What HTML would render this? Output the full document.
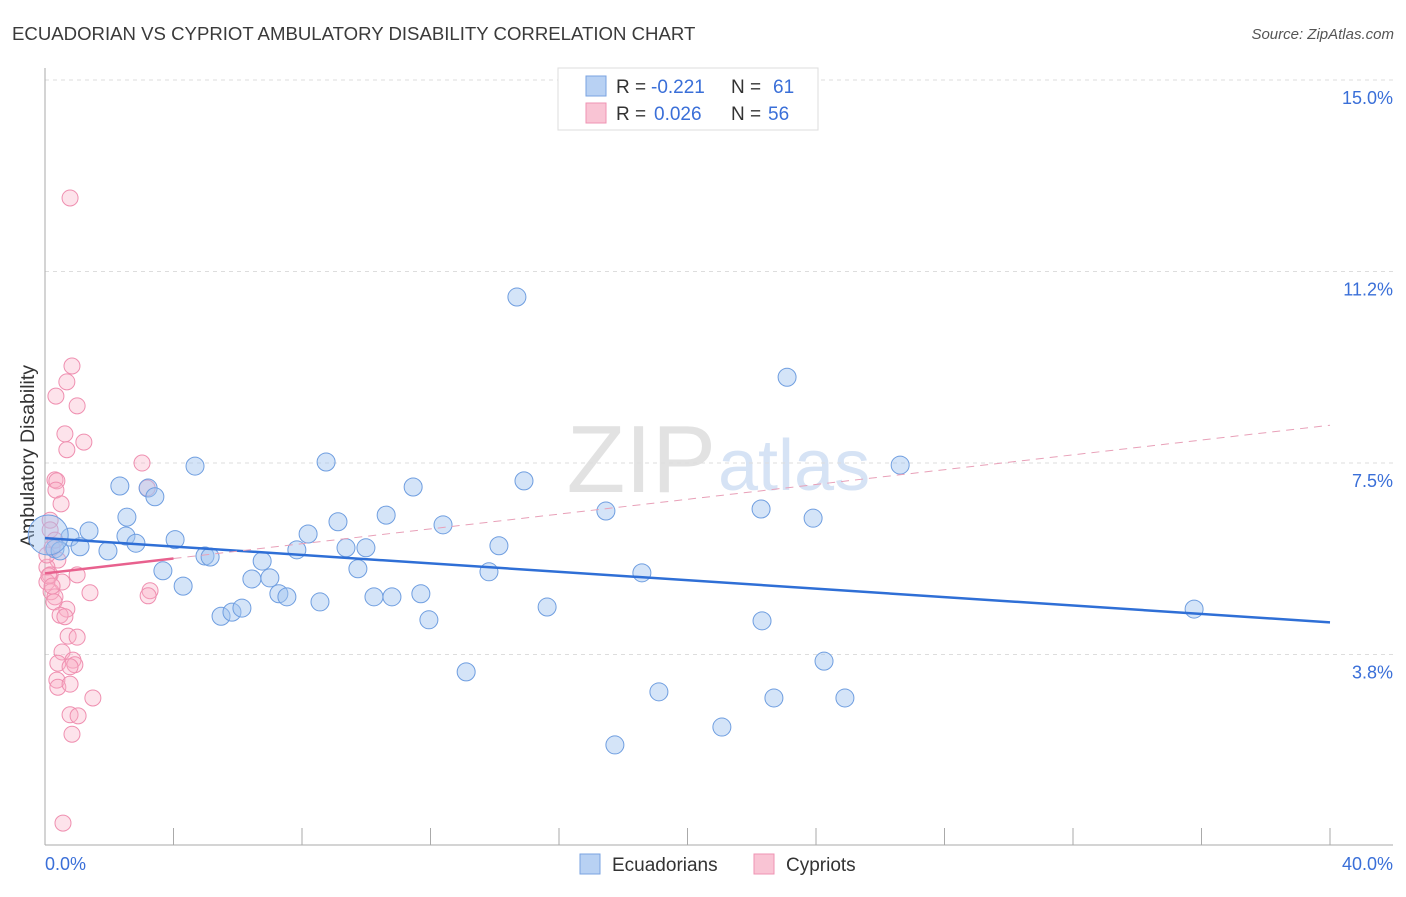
<!DOCTYPE html>
<html><head><meta charset="utf-8"><style>
body{margin:0;background:#fff;font-family:"Liberation Sans",sans-serif;}
svg text{font-family:"Liberation Sans",sans-serif;}
</style></head><body>
<svg id="c" width="1406" height="892" xmlns="http://www.w3.org/2000/svg">
<text x="12" y="40" font-size="18.6" fill="#3a3a3a">ECUADORIAN VS CYPRIOT AMBULATORY DISABILITY CORRELATION CHART</text>
<text x="1394" y="39" font-size="15" fill="#555" text-anchor="end" font-style="italic">Source: ZipAtlas.com</text>
<text x="716" y="492" font-size="96" fill="#e2e2e2" text-anchor="end" font-family="Liberation Serif">ZIP</text>
<text x="718" y="490" font-size="72" fill="#d6e3f5">atlas</text>
<text transform="translate(34,456) rotate(-90)" font-size="19.5" fill="#333" text-anchor="middle">Ambulatory Disability</text>
<g id="grid"></g><g id="pts"></g><g id="trend"></g>
<g>
<rect x="558" y="68" width="260" height="62" fill="#fff" stroke="#ddd"/>
<rect x="586" y="76" width="20" height="20" fill="#b8d1f3" stroke="#7aa3e0"/>
<rect x="586" y="103" width="20" height="20" fill="#f9c4d4" stroke="#ef93b3"/>
<text x="616" y="93" font-size="19" fill="#333">R =</text>
<text x="651" y="93" font-size="19" fill="#3a6fd8">-0.221</text>
<text x="731" y="93" font-size="19" fill="#333">N =</text>
<text x="773" y="93" font-size="19" fill="#3a6fd8">61</text>
<text x="616" y="120" font-size="19" fill="#333">R =</text>
<text x="654" y="120" font-size="19" fill="#3a6fd8">0.026</text>
<text x="731" y="120" font-size="19" fill="#333">N =</text>
<text x="768" y="120" font-size="19" fill="#3a6fd8">56</text>
</g>
<g>
<rect x="580" y="854" width="20" height="20" fill="#b8d1f3" stroke="#7aa3e0"/>
<text x="612" y="871" font-size="19" fill="#333">Ecuadorians</text>
<rect x="754" y="854" width="20" height="20" fill="#f9c4d4" stroke="#ef93b3"/>
<text x="786" y="871" font-size="19" fill="#333">Cypriots</text>
</g>
<text x="45" y="870" font-size="18" fill="#3a6fd8">0.0%</text>
<text x="1393" y="870" font-size="18" fill="#3a6fd8" text-anchor="end">40.0%</text>
</svg>
<script>
const yTicks=[15,11.25,7.5,3.75];
const yTickLabels=["15.0%","11.2%","7.5%","3.8%"];
const blueX=[2.33,2.55,1.37,0.78,0.31,1.09,1.96,2.52,2.83,3.21,3.42,4.05,4.67,3.67,4.30,4.98,5.14,5.48,5.82,6.13,6.44,6.76,7.00,7.28,7.53,7.84,8.19,8.56,8.75,9.12,9.37,9.74,9.99,10.24,10.62,10.80,11.46,11.70,11.95,12.39,13.11,13.82,14.13,14.69,14.91,15.63,17.46,17.74,18.58,19.11,21.07,22.29,22.32,22.69,23.10,23.91,24.25,24.90,26.62,35.77,0.47];
const blueY=[7.05,6.44,6.17,6.05,5.82,5.86,5.78,6.07,5.93,7.01,6.84,6.00,7.44,5.39,5.09,5.68,5.66,4.50,4.58,4.66,5.23,5.58,5.25,4.94,4.88,5.80,6.11,4.78,7.52,6.35,5.84,5.43,5.84,4.88,6.48,4.88,7.03,4.94,4.43,6.29,3.41,5.37,5.88,10.75,7.15,4.68,6.56,1.98,5.35,3.02,2.33,6.60,4.41,2.90,9.18,6.42,3.62,2.90,7.46,4.64,5.78];
const pinkX=[0.78,0.84,0.68,0.34,1.00,0.62,1.21,0.68,3.02,0.31,0.37,0.34,3.18,0.50,0.16,0.22,0.40,0.06,0.16,0.06,0.53,1.00,0.19,0.31,1.40,3.27,3.21,0.28,0.68,0.47,0.62,0.72,1.00,0.53,0.87,0.40,0.93,0.78,0.37,0.40,0.78,1.49,0.78,1.03,0.84,0.56,0.16,0.12,0.22,0.06,0.31];
const pinkY=[12.69,9.40,9.09,8.81,8.62,8.07,7.91,7.76,7.50,7.17,7.15,6.97,7.01,6.70,6.38,5.84,5.60,5.46,5.31,5.17,5.17,5.31,4.98,4.88,4.96,5.00,4.90,4.78,4.64,4.52,4.49,4.11,4.09,3.80,3.64,3.58,3.55,3.51,3.25,3.11,3.17,2.90,2.57,2.55,2.19,0.45,6.19,5.29,5.09,5.70,5.99];
const bigX=[0.1],bigY=[6.09];
const blueTrend=[6.03,4.38], pinkTrend=[5.34,8.24];
const NS="http://www.w3.org/2000/svg";
const xs=v=>45+v/40*1285, ys=v=>80+(15-v)*51.07;
function mk(t,a,p){const e=document.createElementNS(NS,t);for(const k in a)e.setAttribute(k,a[k]);p.appendChild(e);return e;}
const grid=document.getElementById('grid');
yTicks.forEach((t,i)=>{
 const l=mk('line',{x1:45,x2:1393,y1:ys(t),y2:ys(t),stroke:'#ddd','stroke-dasharray':'4,4'},grid);
 
 
 const tx=mk('text',{x:1393,y:ys(t)+24,'font-size':18,fill:'#3a6fd8','text-anchor':'end'},grid);
 tx.textContent=yTickLabels[i];
 
 
});
mk('line',{x1:45,x2:45,y1:68,y2:845,stroke:'#aaa'},grid);
mk('line',{x1:45,x2:1393,y1:845,y2:845,stroke:'#aaa'},grid);
for(let i=0;i<=10;i++){const t=mk('line',{x1:xs(i*4),x2:xs(i*4),y1:828,y2:845,stroke:'#aaa'},grid);
 
 }
const pts=document.getElementById('pts');
pinkX.forEach((x,i)=>{const c=mk('circle',{cx:xs(x),cy:ys(pinkY[i]),r:8,fill:'rgba(248,175,198,0.35)',stroke:'#ef8fb0','stroke-width':1},pts);
 
 });
blueX.forEach((x,i)=>{const c=mk('circle',{cx:xs(x),cy:ys(blueY[i]),r:9,fill:'rgba(160,195,240,0.45)',stroke:'#6f9ee0','stroke-width':1},pts);
 
 });
bigX.forEach((x,i)=>{const c=mk('circle',{cx:xs(x),cy:ys(bigY[i]),r:20,fill:'rgba(160,195,240,0.45)',stroke:'#6f9ee0'},pts);
 
 });
const tr=document.getElementById('trend');
let l=mk('line',{x1:xs(0),y1:ys(blueTrend[0]),x2:xs(40),y2:ys(blueTrend[1]),stroke:'#2f6fd6','stroke-width':2.5},tr);


const pAt=x=>pinkTrend[0]+(pinkTrend[1]-pinkTrend[0])*x/40;
l=mk('line',{x1:xs(0),y1:ys(pAt(0)),x2:xs(4),y2:ys(pAt(4)),stroke:'#e8618e','stroke-width':2.5},tr);


l=mk('line',{x1:xs(4),y1:ys(pAt(4)),x2:xs(40),y2:ys(pAt(40)),stroke:'#e8a0b8','stroke-width':1,'stroke-dasharray':'8,6'},tr);


</script>
</body></html>
